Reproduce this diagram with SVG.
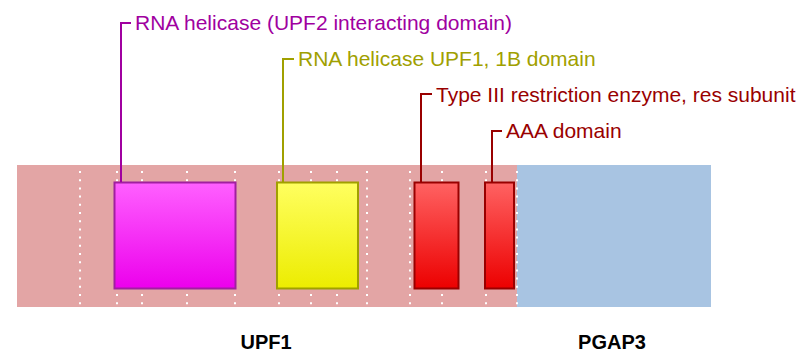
<svg xmlns="http://www.w3.org/2000/svg" width="808" height="358" viewBox="0 0 808 358">
  <defs>
    <linearGradient id="gMag" x1="0" y1="0" x2="0" y2="1">
      <stop offset="0" stop-color="#ff60ff"/>
      <stop offset="1" stop-color="#ec00ec"/>
    </linearGradient>
    <linearGradient id="gYel" x1="0" y1="0" x2="0" y2="1">
      <stop offset="0" stop-color="#ffff60"/>
      <stop offset="1" stop-color="#ecec00"/>
    </linearGradient>
    <linearGradient id="gRed" x1="0" y1="0" x2="0" y2="1">
      <stop offset="0" stop-color="#ff6262"/>
      <stop offset="1" stop-color="#ec0000"/>
    </linearGradient>
  </defs>
  <style>
    .grid { stroke: #ffffff; stroke-width: 2; stroke-dasharray: 2 6.2; }
    .lbl { font-family: "Liberation Sans", Arial, sans-serif; font-size: 21px; }
    .gene { font-family: "Liberation Sans", Arial, sans-serif; font-size: 20px; font-weight: bold; fill: #000; text-anchor: middle; }
    .lead { fill: none; stroke-width: 2; }
    .dom { stroke-width: 2; }
  </style>

  <!-- gene bars -->
  <g id="upf1">
    <rect x="17" y="165" width="500" height="142" fill="#e3a5a5"/>
    <text class="gene" x="266" y="349">UPF1</text>
  </g>
  <g id="pgap3">
    <rect x="517" y="165" width="194" height="142" fill="#a8c4e2"/>
    <text class="gene" x="612" y="349">PGAP3</text>
  </g>

  <!-- dotted exon guides -->
  <g id="guides">
    <line class="grid" x1="80" y1="171" x2="80" y2="307"/>
    <line class="grid" x1="117" y1="171" x2="117" y2="307"/>
    <line class="grid" x1="142" y1="171" x2="142" y2="307"/>
    <line class="grid" x1="187" y1="171" x2="187" y2="307"/>
    <line class="grid" x1="235" y1="171" x2="235" y2="307"/>
    <line class="grid" x1="279" y1="171" x2="279" y2="307"/>
    <line class="grid" x1="311" y1="171" x2="311" y2="307"/>
    <line class="grid" x1="337" y1="171" x2="337" y2="307"/>
    <line class="grid" x1="367" y1="171" x2="367" y2="307"/>
    <line class="grid" x1="410" y1="171" x2="410" y2="307"/>
    <line class="grid" x1="442" y1="171" x2="442" y2="307"/>
    <line class="grid" x1="486" y1="171" x2="486" y2="307"/>
    <line class="grid" x1="517" y1="171" x2="517" y2="307"/>
  </g>

  <!-- protein domains -->
  <g id="dom-upf2">
    <rect class="dom" x="114.5" y="182.5" width="121" height="106" fill="url(#gMag)" stroke="#a020a0"/>
    <text class="lbl" x="135" y="30" fill="#a000a0">RNA helicase (UPF2 interacting domain)</text>
  </g>
  <g id="dom-1b">
    <rect class="dom" x="277" y="182.5" width="81" height="106" fill="url(#gYel)" stroke="#a0a000"/>
    <text class="lbl" x="298" y="66" fill="#a0a000">RNA helicase UPF1, 1B domain</text>
  </g>
  <g id="dom-res">
    <rect class="dom" x="414.5" y="182.5" width="44" height="106" fill="url(#gRed)" stroke="#990000"/>
    <text class="lbl" x="436" y="102" fill="#990000">Type III restriction enzyme, res subunit</text>
  </g>
  <g id="dom-aaa">
    <rect class="dom" x="485" y="182.5" width="29" height="106" fill="url(#gRed)" stroke="#990000"/>
    <text class="lbl" x="506" y="138" fill="#990000">AAA domain</text>
  </g>

  <!-- label leaders -->
  <g id="connectors">
    <polyline class="lead" stroke="#a000a0" points="121,182 121,23 131,23"/>
    <polyline class="lead" stroke="#a0a000" points="283,182 283,59 294,59"/>
    <polyline class="lead" stroke="#990000" points="421,182 421,94 432,94"/>
    <polyline class="lead" stroke="#990000" points="492,182 492,131 502,131"/>
  </g>
</svg>
